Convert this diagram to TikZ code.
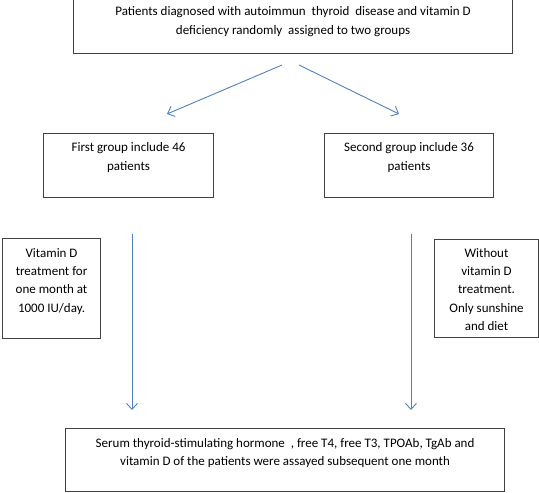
\documentclass[tikz,border=0pt]{standalone}
\usepackage{fontspec}
\setmainfont{Carlito}
\usetikzlibrary{arrows.meta}
\definecolor{boxgray}{RGB}{64,64,64}
\definecolor{arrowblue}{RGB}{79,129,189}
\newcommand{\boxtext}[4]{\parbox[t][#2][t]{#1}{\centering\vspace{#3}\strut#4}}
\begin{document}
\begin{tikzpicture}[x=1pt,y=-1pt,
  box/.style={draw=boxgray,line width=1.1pt,inner sep=0pt,anchor=north west},
  big/.style={font=\fontsize{13}{19}\selectfont},
  small/.style={font=\fontsize{13}{18.3}\selectfont},
  flow/.style={draw=arrowblue,line width=0.9pt,-{Straight Barb[length=6pt,width=11pt]}}]
\useasboundingbox (0,0) rectangle (539,493);
\tikzstyle{every node}+=[inner sep=0pt]
\node [box,big] (patients) at (73,-1) {\boxtext{439pt}{54pt}{3pt}{Patients diagnosed with autoimmun\ \ thyroid\ \ disease and vitamin D\\ deficiency randomly\ \ assigned to two groups}};
\node [box,big] (first) at (43,133) {\boxtext{170pt}{64pt}{5pt}{First group include 46\\ patients}};
\node [box,big] (second) at (324,133) {\boxtext{169pt}{64pt}{5pt}{Second group include 36\\ patients}};
\node [box,small] (withd) at (2,238) {\boxtext{98pt}{100pt}{6pt}{Vitamin D\\ treatment\ for\\ one month at\\ 1000 IU/day.}};
\node [box,small] (withoutd) at (434,239) {\boxtext{104pt}{98pt}{5pt}{Without\\ vitamin D\\ treatment.\\ Only sunshine\\ and diet}};
\node [box,font=\fontsize{13}{18}\selectfont] (serum) at (65,428) {\boxtext{439pt}{63pt}{6pt}{Serum thyroid-stimulating hormone\ \ , free T4, free T3, TPOAb, TgAb and\\ vitamin D of the patients were assayed subsequent one month}};
\coordinate (split1) at (282,65);
\coordinate (split2) at (299,65);
\coordinate (in1) at (167,114);
\coordinate (in2) at (399,114);
\coordinate (out1) at (132,234);
\coordinate (out2) at (411,234);
\coordinate (end1) at (132,410);
\coordinate (end2) at (411,410);
\draw [flow] (split1) -- (in1);
\draw [flow] (split2) -- (in2);
\draw [flow] (out1) -- (end1);
\draw [flow] (out2) -- (end2);
\end{tikzpicture}
\end{document}
